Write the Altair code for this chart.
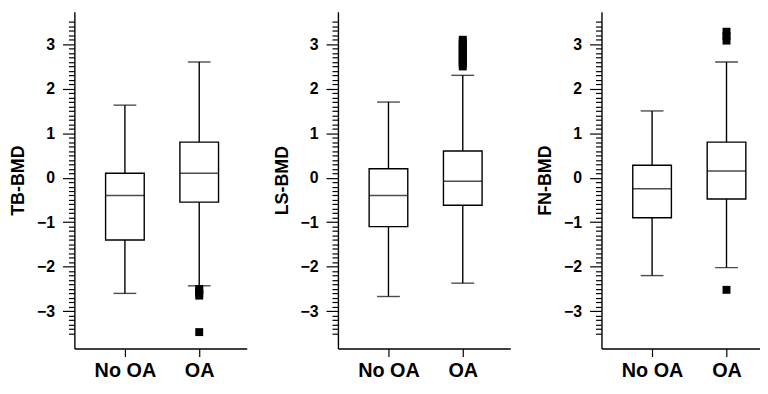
import altair as alt
import pandas as pd

groups = ["No OA", "OA"]
titles = ["TB-BMD", "LS-BMD", "FN-BMD"]

# whisker low, Q1, median, Q3, whisker high  (index 0 = No OA, 1 = OA)
tb_low = [-2.6, -2.43]
tb_q1 = [-1.4, -0.55]
tb_med = [-0.4, 0.1]
tb_q3 = [0.1, 0.8]
tb_high = [1.63, 2.6]
tb_out_vals = [-2.5, -2.55, -2.6, -2.65, -3.47]

ls_low = [-2.67, -2.37]
ls_q1 = [-1.1, -0.62]
ls_med = [-0.4, -0.08]
ls_q3 = [0.2, 0.6]
ls_high = [1.7, 2.3]
ls_out_vals = [2.5, 2.55, 2.6, 2.65, 2.7, 2.75, 2.8, 2.85, 2.9, 2.95, 3.0, 3.05, 3.1]

fn_low = [-2.2, -2.02]
fn_q1 = [-0.9, -0.48]
fn_med = [-0.25, 0.15]
fn_q3 = [0.28, 0.8]
fn_high = [1.5, 2.6]
fn_out_vals = [3.08, 3.18, 3.28, -2.52]

minor_ticks = [round(-3.5 + 0.1 * i, 1) for i in range(71)]

FONT = "Liberation Sans"
LW = 1.4


def panel(title, low, q1, med, q3, high, out_vals, width, xmax):
    stats = pd.DataFrame({
        "pos": [0, 1], "group": groups,
        "low": low, "q1": q1, "med": med, "q3": q3, "high": high,
    })
    outs = pd.DataFrame({"pos": [1] * len(out_vals), "val": out_vals})
    xscale = alt.Scale(domain=[-0.68, xmax], nice=False, zero=False, padding=0)
    yscale = alt.Scale(domain=[-3.84, 3.73], nice=False, zero=False, padding=0)
    label_js = "[" + ",".join("'%s'" % g for g in groups) + "][datum.value]"
    xaxis = alt.Axis(values=[0, 1], labelExpr=label_js, title=None, tickSize=8,
                     labelPadding=4, labelFontSize=20, ticks=True)
    yaxis = alt.Axis(
        values=minor_ticks,
        labelExpr="abs(datum.value - round(datum.value)) < 0.001 ? format(datum.value, 'd') : ''",
        tickSize={"condition": {"test": "abs(datum.value - round(datum.value)) < 0.001", "value": 12}, "value": 6},
        labelPadding=8, title=title, titlePadding=9, labelFontSize=16,
        titleFontSize=18, minExtent=38, maxExtent=38,
        labelOverlap=False, labelBound=False,
    )
    X = lambda f: alt.X(f, scale=xscale, axis=xaxis)
    Y = lambda f: alt.Y(f, scale=yscale, axis=yaxis, title=title)
    base = alt.Chart(stats)
    whisk = base.mark_rule(color="black", strokeWidth=LW).encode(
        x=X("pos:Q"), y=Y("low:Q"), y2="high:Q",
    )
    box = base.mark_bar(size=39, fill="white", stroke="black", strokeWidth=LW, orient="vertical").encode(
        x=X("pos:Q"), y=Y("q1:Q"), y2="q3:Q",
    )
    median = base.mark_tick(color="black", size=39, thickness=LW, orient="horizontal").encode(
        x=X("pos:Q"), y=Y("med:Q"),
    )
    cap_lo = base.mark_tick(color="black", size=23, thickness=LW, orient="horizontal").encode(
        x=X("pos:Q"), y=Y("low:Q"),
    )
    cap_hi = base.mark_tick(color="black", size=23, thickness=LW, orient="horizontal").encode(
        x=X("pos:Q"), y=Y("high:Q"),
    )
    pts = alt.Chart(outs).mark_square(size=64, color="black", filled=True, opacity=1).encode(
        x=X("pos:Q"), y=Y("val:Q"),
    )
    return alt.layer(whisk, box, median, cap_lo, cap_hi, pts).properties(width=width, height=340)


p1 = panel(titles[0], tb_low, tb_q1, tb_med, tb_q3, tb_high, tb_out_vals, 174, 1.64)
p2 = panel(titles[1], ls_low, ls_q1, ls_med, ls_q3, ls_high, ls_out_vals, 174, 1.64)
p3 = panel(titles[2], fn_low, fn_q1, fn_med, fn_q3, fn_high, fn_out_vals, 160, 1.45)

chart = alt.hconcat(p1, p2, p3, spacing=27).configure(
    padding={"left": 2, "top": 2, "right": 0, "bottom": 0}
).configure_view(stroke=None).configure_axis(
    grid=False,
    domainColor="black", domainWidth=LW,
    tickColor="black", tickWidth=1.2,
    labelColor="black", labelFont=FONT, labelFontWeight="bold",
    titleColor="black", titleFont=FONT, titleFontWeight="bold",
)

chart.save("out.html", embed_options={"renderer": "svg", "actions": False})
